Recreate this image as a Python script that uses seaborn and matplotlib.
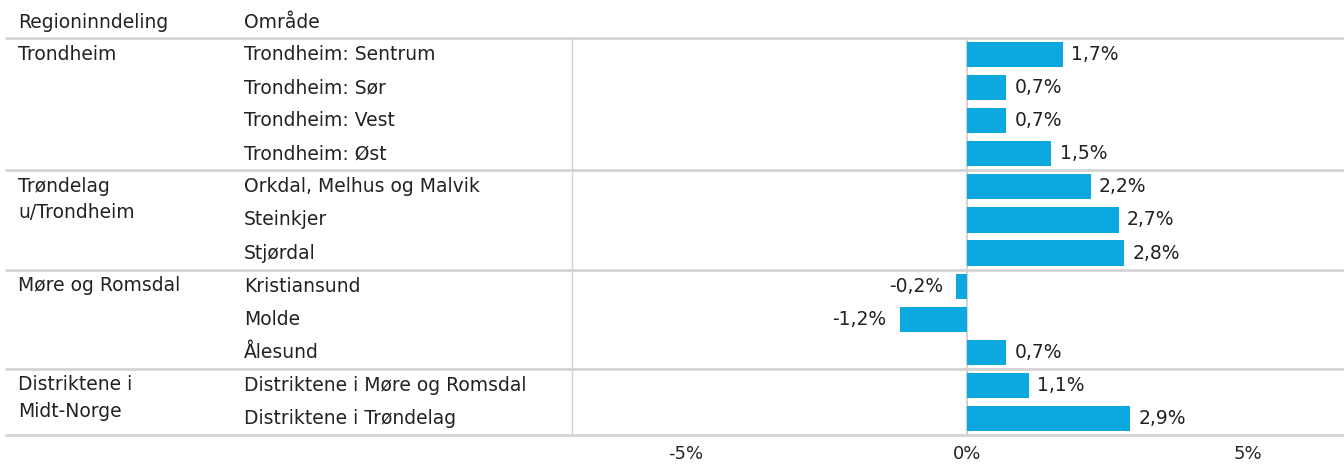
import matplotlib
matplotlib.use("Agg")
import matplotlib.pyplot as plt
import matplotlib.transforms as mtransforms
from matplotlib.lines import Line2D
import seaborn as sns
import pandas as pd

# data
regions = ["Trondheim", "Trøndelag\nu/Trondheim", "Møre og Romsdal", "Distriktene i\nMidt-Norge"]
region_sizes = [4, 3, 3, 2]
areas = [
    "Trondheim: Sentrum", "Trondheim: Sør", "Trondheim: Vest", "Trondheim: Øst",
    "Orkdal, Melhus og Malvik", "Steinkjer", "Stjørdal",
    "Kristiansund", "Molde", "Ålesund",
    "Distriktene i Møre og Romsdal", "Distriktene i Trøndelag",
]
values = [1.7, 0.7, 0.7, 1.5, 2.2, 2.7, 2.8, -0.2, -1.2, 0.7, 1.1, 2.9]
tick_values = [-5, 0, 5]

df = pd.DataFrame({"area": areas, "value": values})

sns.set_style("white")
plt.rcParams["font.family"] = ["DejaVu Sans"]
text_color = "#222222"
line_color = "#d4d4d4"
bar_color = "#0ba9e0"
fs = 13.5

fig = plt.figure(figsize=(13.44, 4.65), dpi=100)
ax = fig.add_axes([572 / 1344, 1 - 435 / 465, 1 - 572 / 1344, (435 - 38) / 465])

sns.barplot(data=df, x="value", y="area", orient="h", color=bar_color,
            width=0.76, saturation=1, linewidth=0, ax=ax)

ax.set_xlim(-7.03, 6.71)
ax.set_ylim(len(areas) - 0.5, -0.5)
ax.set_xlabel("")
ax.set_ylabel("")
ax.set_yticks([])
ax.set_xticks(tick_values)
ax.set_xticklabels([f"{t}%" for t in tick_values], fontsize=13, color=text_color)
ax.tick_params(axis="x", length=5, color=line_color, width=1, pad=2)
for s in ax.spines.values():
    s.set_visible(False)
ax.spines["left"].set_visible(True)
ax.spines["left"].set_color(line_color)
ax.spines["left"].set_linewidth(1)
ax.axvline(0, color=line_color, lw=1.5, zorder=0)

# value labels
for i, v in enumerate(values):
    lbl = f"{v:.1f}%".replace(".", ",")
    if v >= 0:
        ax.text(v + 0.15, i, lbl, ha="left", va="center", fontsize=fs, color=text_color)
    else:
        ax.text(v - 0.23, i, lbl, ha="right", va="center", fontsize=fs, color=text_color)

# table part
trans = mtransforms.blended_transform_factory(fig.transFigure, ax.transData)
x_reg = 18 / 1344
x_area = 244 / 1344

fig.text(x_reg, 1 - 22 / 465, "Regioninndeling", ha="left", va="center", fontsize=fs, color=text_color)
fig.text(x_area, 1 - 22 / 465, "Område", ha="left", va="center", fontsize=fs, color=text_color)

for i, a in enumerate(areas):
    ax.text(x_area, i, a, transform=trans, ha="left", va="center", fontsize=fs, color=text_color)

start = 0
bounds = [-0.5]
for reg, n in zip(regions, region_sizes):
    ax.text(x_reg, start - 0.3, reg, transform=trans, ha="left", va="top",
            fontsize=fs, color=text_color, linespacing=1.5)
    start += n
    bounds.append(start - 0.5)

for b in bounds:
    fig.add_artist(Line2D([6 / 1344, 1.0], [b, b], transform=trans, color=line_color, lw=2))

fig.savefig("out.png", dpi=100)
